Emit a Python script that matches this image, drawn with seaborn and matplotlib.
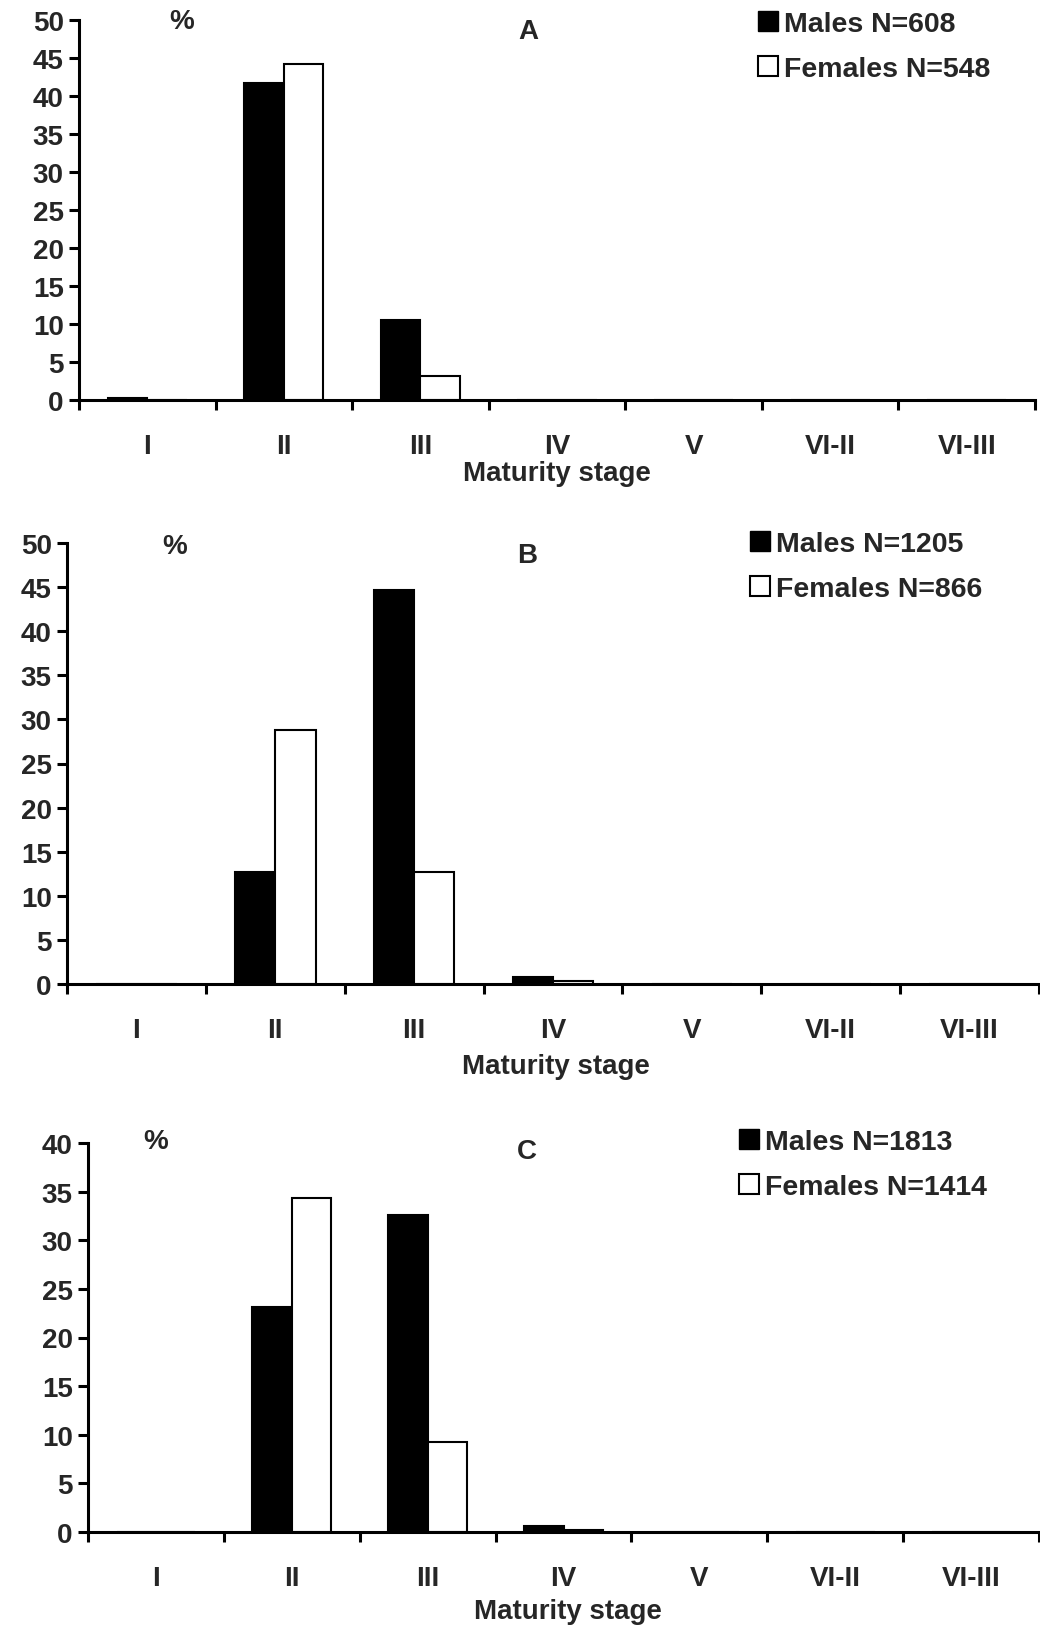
import pandas as pd
import numpy as np
import matplotlib
matplotlib.use('Agg')
import matplotlib.pyplot as plt
import seaborn as sns
from matplotlib.patches import Patch
from matplotlib.ticker import FixedLocator

sns.set_theme(style='white')
plt.rcParams['font.family'] = ['Liberation Sans', 'DejaVu Sans']
plt.rcParams['font.weight'] = 'bold'

stages = ['I', 'II', 'III', 'IV', 'V', 'VI-II', 'VI-III']

# percent of fish per maturity stage
males_a = [0.3, 41.7, 10.5, 0, 0, 0, 0]
females_a = [0, 44.2, 3.1, 0, 0, 0, 0]
males_b = [0, 12.7, 44.7, 0.8, 0, 0, 0]
females_b = [0, 28.8, 12.7, 0.3, 0, 0, 0]
males_c = [0, 23.1, 32.6, 0.6, 0, 0, 0]
females_c = [0, 34.3, 9.3, 0.2, 0, 0, 0]

legend_a = ['Males N=608', 'Females N=548']
legend_b = ['Males N=1205', 'Females N=866']
legend_c = ['Males N=1813', 'Females N=1414']

W, H = 1040, 1631
fig = plt.figure(figsize=(W / 100, H / 100), dpi=100)

def px(x, y):
    return x / W, 1 - y / H

def panel(rect, males, females, letter, ymax, leg, leg_xy, pct_xy, let_xy, xl_xy):
    ax = fig.add_axes(rect)
    df = pd.DataFrame({
        'stage': stages * 2,
        'pct': males + females,
        'sex': ['Males'] * len(stages) + ['Females'] * len(stages),
    })
    sns.barplot(data=df, x='stage', y='pct', hue='sex', order=stages,
                hue_order=['Males', 'Females'],
                palette={'Males': 'black', 'Females': 'white'},
                width=0.58, saturation=1, edgecolor='black', linewidth=1.5,
                legend=False, ax=ax)
    ax.set_xlim(-0.5, len(stages) - 0.5)
    ax.set_ylim(0, ymax)
    ax.set_yticks(np.arange(0, ymax + 1, 5))
    ax.set_xlabel('')
    ax.set_ylabel('')
    for s in ['top', 'right']:
        ax.spines[s].set_visible(False)
    for s in ['left', 'bottom']:
        ax.spines[s].set_linewidth(2.2)
        ax.spines[s].set_color('black')
    ax.tick_params(axis='x', which='major', length=0, pad=24, labelsize=20)
    ax.xaxis.set_minor_locator(FixedLocator(np.arange(-0.5, len(stages), 1)))
    ax.tick_params(axis='x', which='minor', direction='out', length=7, width=2.2,
                   color='black', bottom=True)
    ax.tick_params(axis='y', direction='out', length=7, width=2.2, color='black',
                   pad=4, labelsize=20, left=True)
    for t in ax.get_xticklabels() + ax.get_yticklabels():
        t.set_fontweight('bold')

    handles = [Patch(facecolor='black', edgecolor='black'),
               Patch(facecolor='white', edgecolor='black', linewidth=1.5)]
    ax.legend(handles, leg, loc='upper left', bbox_to_anchor=px(*leg_xy),
              bbox_transform=fig.transFigure, frameon=False, borderpad=0,
              handlelength=0.7, handleheight=0.7, handletextpad=0.22,
              labelspacing=0.66, prop={'weight': 'bold', 'size': 20.5})

    fig.text(*px(*pct_xy), '%', ha='center', va='center', fontsize=20, fontweight='bold')
    fig.text(*px(*let_xy), letter, ha='center', va='center', fontsize=20, fontweight='bold')
    fig.text(*px(*xl_xy), 'Maturity stage', ha='center', va='center', fontsize=20,
             fontweight='bold')
    return ax

panel([79 / W, 1 - 401 / H, (1035 - 79) / W, (401 - 21) / H],
      males_a, females_a, 'A', 50, legend_a,
      (744, -2), (182, 22), (528, 32), (557, 474))

panel([67 / W, 1 - 985 / H, (1039 - 67) / W, (985 - 544) / H],
      males_b, females_b, 'B', 50, legend_b,
      (736, 518), (175, 547), (527, 556), (556, 1067))

panel([88 / W, 1 - 1533 / H, (1039 - 88) / W, (1533 - 1144) / H],
      males_c, females_c, 'C', 40, legend_c,
      (725, 1116), (156, 1142), (527, 1152), (568, 1612))

plt.savefig('out.png', dpi=100)
